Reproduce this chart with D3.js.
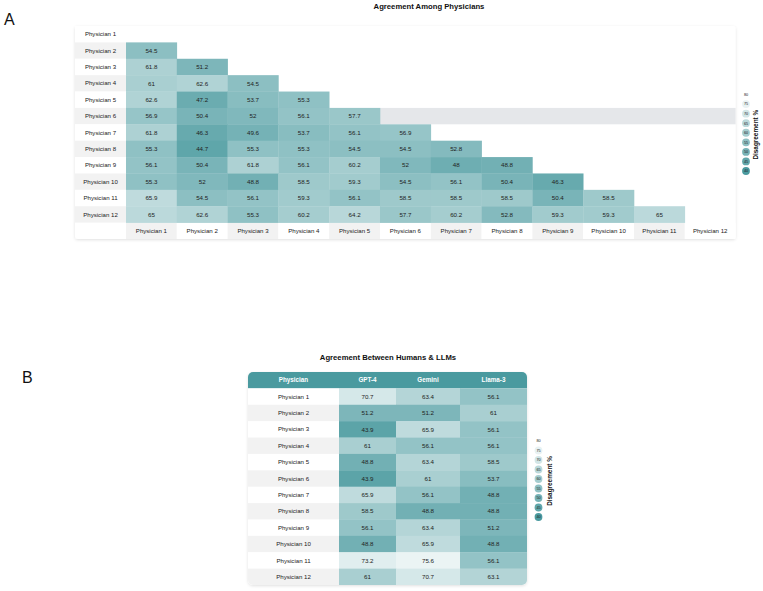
<!DOCTYPE html>
<html>
<head>
<meta charset="utf-8">
<script src="https://cdn.jsdelivr.net/npm/d3@7"></script>
<style>
  html, body { margin: 0; padding: 0; background: #ffffff; }
  svg { display: block; font-family: "Liberation Sans", Arial, Helvetica, sans-serif; }
</style>
</head>
<body>
<svg id="chart" width="763" height="591"></svg>
<script>
// ---------------- DATA ----------------
const physicians = ["Physician 1", "Physician 2", "Physician 3", "Physician 4", "Physician 5", "Physician 6",
  "Physician 7", "Physician 8", "Physician 9", "Physician 10", "Physician 11", "Physician 12"];

// lower triangle: row i holds agreement with physicians 1..i-1
const physicianAgreement = [
  [],
  [54.5],
  [61.8, 51.2],
  [61, 62.6, 54.5],
  [62.6, 47.2, 53.7, 55.3],
  [56.9, 50.4, 52, 56.1, 57.7],
  [61.8, 46.3, 49.6, 53.7, 56.1, 56.9],
  [55.3, 44.7, 55.3, 55.3, 54.5, 54.5, 52.8],
  [56.1, 50.4, 61.8, 56.1, 60.2, 52, 48, 48.8],
  [55.3, 52, 48.8, 58.5, 59.3, 54.5, 56.1, 50.4, 46.3],
  [65.9, 54.5, 56.1, 59.3, 56.1, 58.5, 58.5, 58.5, 50.4, 58.5],
  [65, 62.6, 55.3, 60.2, 64.2, 57.7, 60.2, 52.8, 59.3, 59.3, 65]
];

const llmNames = ["GPT-4", "Gemini", "Llama-3"];
const gpt4   = [70.7, 51.2, 43.9, 61, 48.8, 43.9, 65.9, 58.5, 56.1, 48.8, 73.2, 61];
const gemini = [63.4, 51.2, 65.9, 56.1, 63.4, 61, 56.1, 48.8, 63.4, 65.9, 75.6, 70.7];
const llama3 = [56.1, 61, 56.1, 56.1, 58.5, 53.7, 48.8, 48.8, 51.2, 48.8, 56.1, 63.1];

const legendTicks = [80, 75, 70, 65, 60, 55, 50, 45, 40];
const highlightedRow = "Physician 6";

// ---------------- STYLE ----------------
const TEAL = "#4a9a9f";
const STRIPE = "#f2f2f2";
const HILITE = "#e5e7ea";
const TXT = "#222222";

const color = d3.scaleLinear().domain([40, 80]).range([TEAL, "#ffffff"]).interpolate(d3.interpolateRgb);

const svg = d3.select("#chart");
const defs = svg.append("defs");
const f = defs.append("filter").attr("id", "shadow").attr("x", "-5%").attr("y", "-5%").attr("width", "110%").attr("height", "115%");
f.append("feDropShadow").attr("dx", 0).attr("dy", 1).attr("stdDeviation", 1.5)
  .attr("flood-color", "#000").attr("flood-opacity", 0.12);

// ---------------- PANEL A ----------------
const A = { left: 75, labelRight: 126, right: 735.6, top: 26, bottom: 239 };

svg.append("text").attr("x", 4).attr("y", 25).attr("font-size", 16).attr("fill", "#111").text("A");
svg.append("text").attr("x", 429).attr("y", 8.6).attr("text-anchor", "middle")
  .attr("font-size", 7.7).attr("font-weight", "bold").attr("fill", "#111").text("Agreement Among Physicians");

const rowsA = [...physicians, "__header"];
const xA = d3.scaleBand().domain(physicians).range([A.labelRight, A.right]);
const yA = d3.scaleBand().domain(rowsA).range([A.top, A.bottom]);

const gA = svg.append("g");
gA.append("rect").attr("x", A.left).attr("y", A.top).attr("width", A.right - A.left).attr("height", A.bottom - A.top)
  .attr("rx", 3).attr("fill", "#fff").attr("filter", "url(#shadow)");

// highlighted row
gA.append("rect").attr("x", A.labelRight).attr("y", yA(highlightedRow))
  .attr("width", A.right - A.labelRight).attr("height", yA.bandwidth()).attr("fill", HILITE);

// row labels
physicians.forEach((p, i) => {
  gA.append("rect").attr("x", A.left).attr("y", yA(p)).attr("width", A.labelRight - A.left)
    .attr("height", yA.bandwidth()).attr("fill", i % 2 === 1 ? STRIPE : "#fff");
  gA.append("text").attr("x", (A.left + A.labelRight) / 2).attr("y", yA(p) + yA.bandwidth() / 2)
    .attr("dy", "0.35em").attr("text-anchor", "middle").attr("font-size", 6.1).attr("fill", TXT).text(p);
});

// column headers (bottom)
physicians.forEach((p, j) => {
  gA.append("rect").attr("x", xA(p)).attr("y", yA("__header")).attr("width", xA.bandwidth())
    .attr("height", yA.bandwidth()).attr("fill", j % 2 === 0 ? STRIPE : "#fff");
  gA.append("text").attr("x", xA(p) + xA.bandwidth() / 2).attr("y", yA("__header") + yA.bandwidth() / 2)
    .attr("dy", "0.35em").attr("text-anchor", "middle").attr("font-size", 6.1).attr("fill", TXT).text(p);
});

// cells
const cellsA = [];
physicianAgreement.forEach((row, i) => row.forEach((v, j) => cellsA.push({ r: physicians[i], c: physicians[j], v })));
const cg = gA.selectAll("g.cell").data(cellsA).join("g").attr("class", "cell");
cg.append("rect").attr("x", d => xA(d.c)).attr("y", d => yA(d.r))
  .attr("width", xA.bandwidth() + 0.3).attr("height", yA.bandwidth() + 0.3).attr("fill", d => color(d.v));
cg.append("text").attr("x", d => xA(d.c) + xA.bandwidth() / 2).attr("y", d => yA(d.r) + yA.bandwidth() / 2)
  .attr("dy", "0.35em").attr("text-anchor", "middle").attr("font-size", 6.2).attr("fill", TXT).text(d => d.v);

// ---------------- LEGEND helper ----------------
function drawLegend(cx, cyTop, cyBottom, titleX) {
  const ly = d3.scalePoint().domain(legendTicks).range([cyTop, cyBottom]);
  const lg = svg.append("g");
  const it = lg.selectAll("g").data(legendTicks).join("g");
  it.append("circle").attr("cx", cx).attr("cy", d => ly(d)).attr("r", 3.9).attr("fill", d => color(d));
  it.append("text").attr("x", cx).attr("y", d => ly(d)).attr("dy", "0.35em").attr("text-anchor", "middle")
    .attr("font-size", 3.8).attr("fill", "#222").text(d => d);
  lg.append("text").attr("transform", `translate(${titleX},${(cyTop + cyBottom) / 2 + 2}) rotate(-90)`)
    .attr("text-anchor", "middle").attr("font-size", 6.4).attr("font-weight", "bold").attr("fill", "#111")
    .text("Disagreement %");
}
drawLegend(746, 94.5, 171, 757.5);

// ---------------- PANEL B ----------------
const B = { top: 372, bottom: 585 };
const colsB = ["Physician", ...llmNames];
const colEdges = [248, 339, 396, 460, 527];
const xB = d3.scaleOrdinal().domain(colsB).range(colEdges.slice(0, 4));
const wB = d3.scaleOrdinal().domain(colsB).range(colEdges.slice(1).map((e, i) => e - colEdges[i]));
const yB = d3.scaleBand().domain(["__header", ...physicians]).range([B.top, B.bottom]);

svg.append("text").attr("x", 22).attr("y", 383).attr("font-size", 16).attr("fill", "#111").text("B");
svg.append("text").attr("x", 388).attr("y", 359.5).attr("text-anchor", "middle")
  .attr("font-size", 7.7).attr("font-weight", "bold").attr("fill", "#111").text("Agreement Between Humans & LLMs");

const clip = defs.append("clipPath").attr("id", "tableClip");
clip.append("rect").attr("x", colEdges[0]).attr("y", B.top).attr("width", colEdges[4] - colEdges[0])
  .attr("height", B.bottom - B.top).attr("rx", 5);

svg.append("rect").attr("x", colEdges[0]).attr("y", B.top).attr("width", colEdges[4] - colEdges[0])
  .attr("height", B.bottom - B.top).attr("rx", 5).attr("fill", "#fff").attr("filter", "url(#shadow)");

const gB = svg.append("g").attr("clip-path", "url(#tableClip)");
// header
colsB.forEach(c => {
  gB.append("rect").attr("x", xB(c)).attr("y", yB("__header")).attr("width", wB(c) + 0.3)
    .attr("height", yB.bandwidth()).attr("fill", TEAL);
  gB.append("text").attr("x", xB(c) + wB(c) / 2).attr("y", yB("__header") + yB.bandwidth() / 2)
    .attr("dy", "0.35em").attr("text-anchor", "middle").attr("font-size", 6.3).attr("font-weight", "bold")
    .attr("fill", "#fff").text(c);
});
// rows
const llmSeries = { "GPT-4": gpt4, "Gemini": gemini, "Llama-3": llama3 };
physicians.forEach((p, i) => {
  gB.append("rect").attr("x", xB("Physician")).attr("y", yB(p)).attr("width", wB("Physician"))
    .attr("height", yB.bandwidth() + 0.3).attr("fill", i % 2 === 1 ? STRIPE : "#fff");
  gB.append("text").attr("x", xB("Physician") + wB("Physician") / 2).attr("y", yB(p) + yB.bandwidth() / 2)
    .attr("dy", "0.35em").attr("text-anchor", "middle").attr("font-size", 6.1).attr("fill", TXT).text(p);
  llmNames.forEach(c => {
    const v = llmSeries[c][i];
    gB.append("rect").attr("x", xB(c)).attr("y", yB(p)).attr("width", wB(c) + 0.3)
      .attr("height", yB.bandwidth() + 0.3).attr("fill", color(v));
    gB.append("text").attr("x", xB(c) + wB(c) / 2).attr("y", yB(p) + yB.bandwidth() / 2)
      .attr("dy", "0.35em").attr("text-anchor", "middle").attr("font-size", 6.2).attr("fill", TXT).text(v);
  });
});

drawLegend(538.5, 441, 517, 552);
</script>
</body>
</html>
